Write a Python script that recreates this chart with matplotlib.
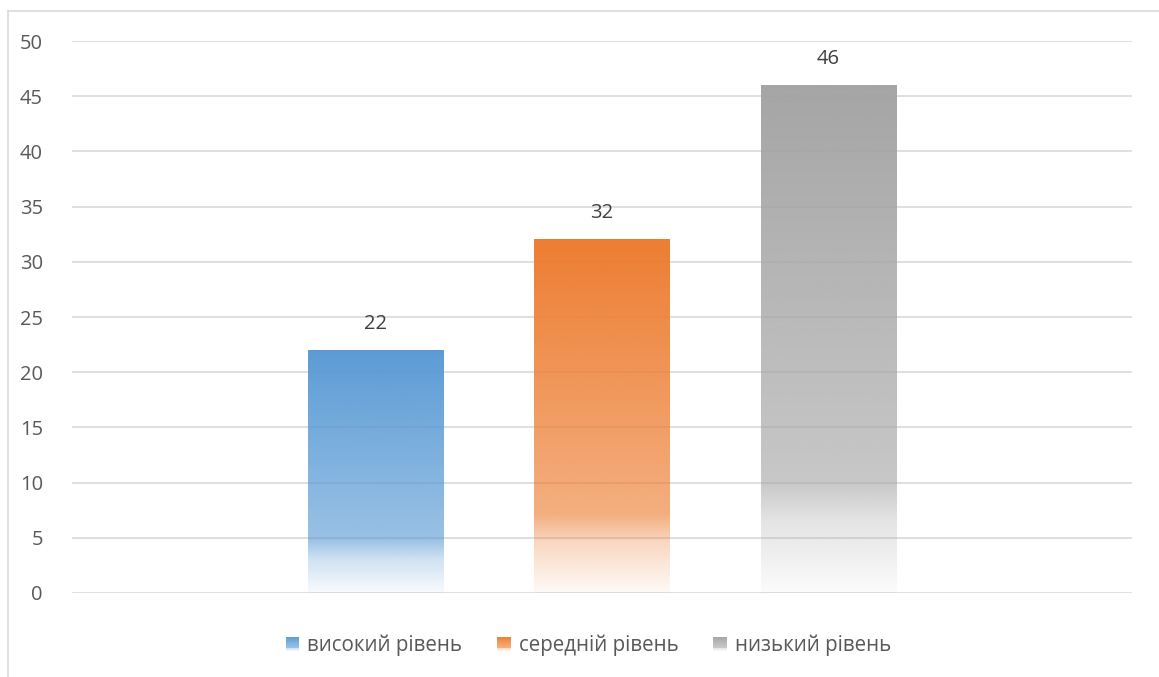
import numpy as np
import matplotlib.pyplot as plt
from matplotlib.colors import to_rgb
from matplotlib.patches import Rectangle
from matplotlib.legend_handler import HandlerBase
from matplotlib.lines import Line2D

plt.rcParams['font.family'] = ['Open Sans', 'DejaVu Sans']

labels = ['високий рівень', 'середній рівень', 'низький рівень']
values = [22, 32, 46]
colors = ['#5B9BD5', '#ED7D31', '#A5A5A5']
positions = [-1, 0, 1]
bar_width = 0.6


def alpha_profile(t):
    # t = 0 at top of bar, 1 at bottom
    return np.interp(t, [0, 0.78, 0.86, 1.0], [1.0, 0.62, 0.3, 0.04])


def gradient_image(color, n=256):
    rgb = to_rgb(color)
    t = np.linspace(0, 1, n)
    img = np.ones((n, 1, 4))
    img[:, 0, :3] = rgb
    img[:, 0, 3] = alpha_profile(t)
    return img


class GradientHandler(HandlerBase):
    def __init__(self, color):
        super().__init__()
        self.color = color

    def create_artists(self, legend, orig_handle, xdescent, ydescent,
                       width, height, fontsize, trans):
        size = height * 0.95
        x0 = -xdescent + width - size
        y0 = -ydescent + (height - size) / 2
        steps = 20
        rgb = to_rgb(self.color)
        arts = []
        for i in range(steps):
            t = (i + 0.5) / steps
            a = alpha_profile(t)
            c = tuple(a * np.array(rgb) + (1 - a))
            r = Rectangle((x0, y0 + size * (1 - (i + 1) / steps)), size, size / steps + 0.2,
                          facecolor=c, edgecolor='none', transform=trans)
            arts.append(r)
        return arts


fig = plt.figure(figsize=(11.59, 6.77), dpi=100)
ax = fig.add_axes([0.0621, 0.1241, 0.9146, 0.8153])

for pos, val, col in zip(positions, values, colors):
    ax.imshow(gradient_image(col), extent=[pos - bar_width / 2, pos + bar_width / 2, 0, val],
              aspect='auto', zorder=2, interpolation='bilinear')
    ax.text(pos, val + 1.5, str(val), ha='center', va='bottom', fontsize=14.5, color='#404040')

ax.set_xlim(-2.34, 2.34)
ax.set_ylim(0, 50)
ax.set_yticks(range(0, 51, 5))
ax.set_xticks([])
ax.grid(axis='y', color='#D9D9D9', linewidth=1.2, zorder=0)
ax.set_axisbelow(True)
for s in ax.spines.values():
    s.set_visible(False)
ax.tick_params(axis='y', length=0, pad=21, labelsize=14.5, labelcolor='#595959')

# chart frame (left and top edges)
fig.add_artist(Line2D([8 / 1159, 8 / 1159], [0, 1 - 11 / 677], color='#D9D9D9', lw=1.2))
fig.add_artist(Line2D([8 / 1159, 1], [1 - 11 / 677, 1 - 11 / 677], color='#D9D9D9', lw=1.2))

handles = [Rectangle((0, 0), 1, 1) for _ in labels]
leg = fig.legend(handles, labels, loc='center', bbox_to_anchor=(0.507, 0.047), ncol=3,
                 frameon=False, fontsize=14.8, labelcolor='#595959',
                 handler_map={h: GradientHandler(c) for h, c in zip(handles, colors)},
                 handlelength=0.75, handletextpad=0.4, columnspacing=1.6)

fig.savefig('out.png', dpi=100, facecolor='white')
